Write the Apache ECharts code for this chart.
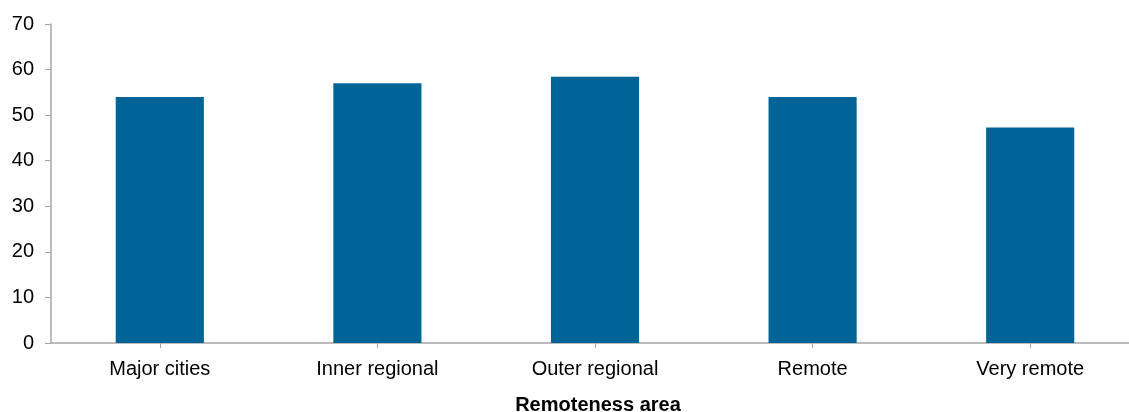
<!DOCTYPE html>
<html><head><meta charset="utf-8">
<script src="https://cdn.jsdelivr.net/npm/echarts@6/dist/echarts.min.js"></script>
<style>html,body{margin:0;padding:0;background:#fff;overflow:hidden}#c{width:1129px;height:412px}</style>
</head><body><div id="c"></div>
<script>
const categories = ["Major cities", "Inner regional", "Outer regional", "Remote", "Very remote"];
const values = [54.0, 57.0, 58.4, 54.0, 47.3];
const yTicks = { min: 0, max: 70, interval: 10 };
const xAxisTitle = "Remoteness area";

const chart = echarts.init(document.getElementById('c'), null, { renderer: 'canvas' });
const font = '"Liberation Sans", Arial, sans-serif';
chart.setOption({
  animation: false,
  grid: { left: 51, top: 24, width: 1088, height: 319, containLabel: false, outerBoundsMode: 'none' },
  xAxis: {
    type: 'category', data: categories,
    axisLine: { lineStyle: { color: '#a6a6a6', width: 1.5 } },
    axisTick: { show: true, alignWithLabel: true, length: 5, lineStyle: { color: '#a6a6a6' } },
    axisLabel: { color: '#000', fontFamily: font, fontSize: 20, margin: 16 },
    name: xAxisTitle, nameLocation: 'middle', nameGap: 52,
    nameTextStyle: { color: '#000', fontFamily: font, fontSize: 20, fontWeight: 'bold', padding: [0, 0, 0, 6] }
  },
  yAxis: {
    type: 'value', min: yTicks.min, max: yTicks.max, interval: yTicks.interval,
    axisLine: { show: true, lineStyle: { color: '#a6a6a6', width: 1.5 } },
    axisTick: { show: true, length: 6, lineStyle: { color: '#a6a6a6' } },
    splitLine: { show: false },
    axisLabel: { color: '#000', fontFamily: font, fontSize: 20, margin: 17 }
  },
  series: [{
    type: 'bar', data: values, barWidth: '40.5%',
    itemStyle: { color: '#006496' }
  }]
});
</script></body></html>
